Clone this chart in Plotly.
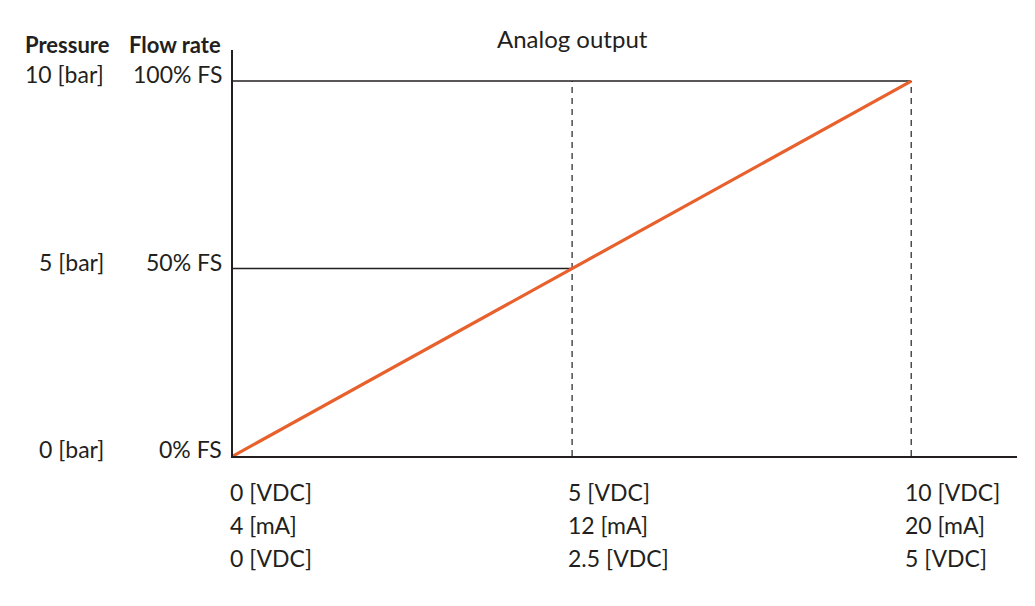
import plotly.graph_objects as go

# ---- data ----
signal_x = [0, 5, 10]                 # output position (VDC, 0-10 scale)
flow_pct = [0, 50, 100]               # flow rate % FS
flow_labels = ["0% FS", "50% FS", "100% FS"]
pressure_labels = ["0 [bar]", "5 [bar]", "10 [bar]"]
vdc_labels = ["0 [VDC]", "5 [VDC]", "10 [VDC]"]
ma_labels = ["4 [mA]", "12 [mA]", "20 [mA]"]
vdc2_labels = ["0 [VDC]", "2.5 [VDC]", "5 [VDC]"]

DARK = "#231f20"
ORANGE = "#e8602c"
FONT = "Lato"

fig = go.Figure()

# horizontal reference lines at 50% and 100%
for xv, yv in zip(signal_x[1:], flow_pct[1:]):
    fig.add_trace(go.Scatter(x=[0, xv], y=[yv, yv], mode="lines",
                             line=dict(color=DARK, width=1.5),
                             hoverinfo="skip", showlegend=False))
# dashed verticals
for xv in signal_x[1:]:
    fig.add_trace(go.Scatter(x=[xv, xv], y=[0, max(flow_pct)], mode="lines",
                             line=dict(color=DARK, width=1.2, dash="6px,5px"),
                             hoverinfo="skip", showlegend=False))
# main line
fig.add_trace(go.Scatter(x=signal_x, y=flow_pct, mode="lines",
                         line=dict(color=ORANGE, width=3.2),
                         hoverinfo="skip", showlegend=False))

ann = []
# y labels
for yv, fl, pl in zip(flow_pct, flow_labels, pressure_labels):
    ann.append(dict(x=0, xref="x", xanchor="right", xshift=-9, y=yv, yref="y",
                    yanchor="middle", yshift=7, text=fl, showarrow=False,
                    font=dict(family=FONT, size=23, color=DARK)))
    ann.append(dict(x=0, xref="x", xanchor="right", xshift=-127, y=yv, yref="y",
                    yanchor="middle", yshift=7, text=pl, showarrow=False,
                    font=dict(family=FONT, size=23, color=DARK)))
# x labels (three rows)
for xv, a, b, c in zip(signal_x, vdc_labels, ma_labels, vdc2_labels):
    for i, t in enumerate([a, b, c]):
        ann.append(dict(x=xv, xref="x", xanchor="left", xshift=-5 - 0.3 * xv,
                        y=0, yref="y", yanchor="middle", yshift=-36 - 33 * i,
                        text=t, showarrow=False, align="left",
                        font=dict(family=FONT, size=23, color=DARK)))
# headers
ann.append(dict(x=0, xref="x", xanchor="right", xshift=-121, y=1, yref="paper",
                yanchor="middle", yshift=6, text="<b>Pressure</b>", showarrow=False,
                font=dict(family=FONT, size=22, color=DARK)))
ann.append(dict(x=0, xref="x", xanchor="right", xshift=-10, y=1, yref="paper",
                yanchor="middle", yshift=6, text="<b>Flow rate</b>", showarrow=False,
                font=dict(family=FONT, size=22, color=DARK)))
ann.append(dict(x=5, xref="x", xanchor="center", y=1, yref="paper",
                yanchor="middle", yshift=12, text="Analog output", showarrow=False,
                font=dict(family=FONT, size=24, color=DARK)))

# page body has an 8px margin: size/margins compensate for it
fig.update_layout(
    width=1027, height=598,
    margin=dict(l=225, r=18, t=42, b=150),
    plot_bgcolor="white", paper_bgcolor="white",
    annotations=ann,
    xaxis=dict(range=[0, 11.56], showgrid=False, zeroline=False, showline=True,
               linecolor=DARK, linewidth=1.5, showticklabels=False, ticks=""),
    yaxis=dict(range=[0, 108.3], showgrid=False, zeroline=False, showline=True,
               linecolor=DARK, linewidth=1.5, showticklabels=False, ticks=""),
)

fig.write_html("out.html")
